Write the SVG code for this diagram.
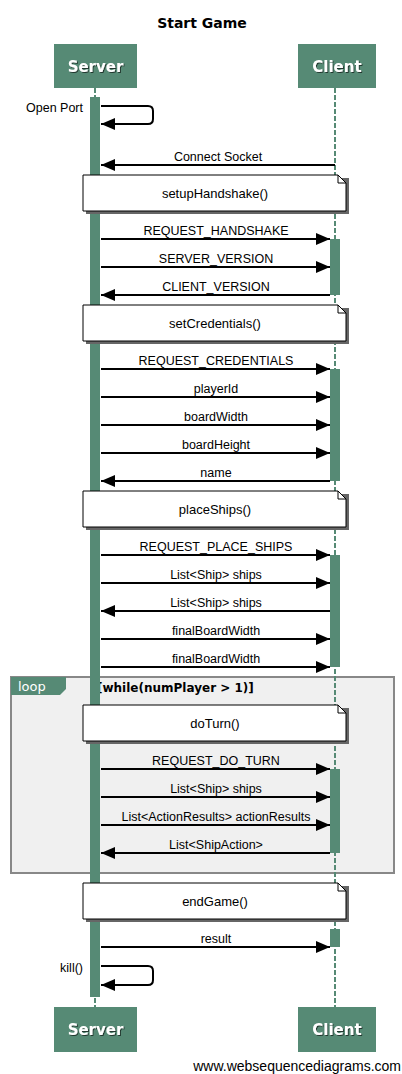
<svg xmlns="http://www.w3.org/2000/svg" width="402" height="1074" viewBox="0 0 402 1074">
<style>
.lbl{font-family:"Liberation Sans",Arial,sans-serif;font-size:12.5px;fill:#000;text-anchor:middle}
.ntxt{font-family:"Liberation Sans",Arial,sans-serif;font-size:13px;fill:#000;text-anchor:middle}
.lblr{font-family:"Liberation Sans",Arial,sans-serif;font-size:12.5px;fill:#000;text-anchor:end}
.part{fill:#568a75}
.ptxt{font-family:"DejaVu Sans",Verdana,sans-serif;font-size:15px;font-weight:bold;fill:#fff;text-anchor:middle;filter:url(#ts)}
.life{stroke:#568a75;stroke-width:2;stroke-dasharray:5,2;fill:none}
.act{fill:#568a75}
.msg{stroke:#000;stroke-width:2;fill:none;marker-end:url(#ah)}
.note{fill:#fff;stroke:#000;stroke-width:1}
.nsh{fill:#666}
</style>
<defs>
<marker id="ah" markerUnits="userSpaceOnUse" markerWidth="14" markerHeight="12" refX="14" refY="6" orient="auto">
<path d="M0,0 L14,6 L0,12 z" fill="#000"/>
</marker>
<filter id="ts" x="-20%" y="-20%" width="140%" height="140%">
<feDropShadow dx="1" dy="1" stdDeviation="0.6" flood-color="#000" flood-opacity="0.6"/>
</filter>
</defs>
<rect width="402" height="1074" fill="#fff"/>
<text x="202" y="28" font-family="DejaVu Sans,Verdana,sans-serif" font-size="14" font-weight="bold" text-anchor="middle">Start Game</text>

<g id="loop">
<rect x="11" y="677" width="383" height="196" fill="#f0f0f0" stroke="#888" stroke-width="2"/>
<path d="M11,677 H66 V689 L60,695 H11 Z" fill="#568a75"/>
<text x="18" y="691" font-family="DejaVu Sans,Verdana,sans-serif" font-size="13" fill="#fff">loop</text>
<text x="97" y="692" font-family="DejaVu Sans,Verdana,sans-serif" font-size="12" font-weight="bold">[while(numPlayer &gt; 1)]</text>
</g>

<g id="lifelines">
<line class="life" x1="95" y1="88" x2="95" y2="1007"/>
<line class="life" x1="335" y1="88" x2="335" y2="1007"/>
</g>

<g id="activations">
<rect class="act" x="90" y="97" width="10" height="900"/>
<rect class="act" x="330" y="239" width="10" height="56"/>
<rect class="act" x="330" y="369" width="10" height="112"/>
<rect class="act" x="330" y="555" width="10" height="112"/>
<rect class="act" x="330" y="769" width="10" height="84"/>
<rect class="act" x="330" y="929" width="10" height="18"/>
</g>

<g id="server-top"><rect class="part" x="54" y="44" width="83" height="44"/><text class="ptxt" x="95.5" y="72">Server</text></g>
<g id="client-top"><rect class="part" x="298" y="44" width="78" height="44"/><text class="ptxt" x="337" y="72">Client</text></g>
<g id="server-bottom"><rect class="part" x="54" y="1007" width="83" height="45"/><text class="ptxt" x="95.5" y="1035">Server</text></g>
<g id="client-bottom"><rect class="part" x="298" y="1007" width="78" height="45"/><text class="ptxt" x="337" y="1035">Client</text></g>

<g id="note-setupHandshake">
<path class="nsh" d="M86,178 H349 V214 H86 Z"/>
<path class="note" d="M83,175 H338 L346,183 V211 H83 Z"/>
<path d="M338,175 V183 H346" fill="none" stroke="#000"/>
<text class="ntxt" x="215" y="198">setupHandshake()</text>
</g>
<g id="note-setCredentials">
<path class="nsh" d="M86,308 H349 V344 H86 Z"/>
<path class="note" d="M83,305 H338 L346,313 V341 H83 Z"/>
<path d="M338,305 V313 H346" fill="none" stroke="#000"/>
<text class="ntxt" x="215" y="328">setCredentials()</text>
</g>
<g id="note-placeShips">
<path class="nsh" d="M86,494 H349 V530 H86 Z"/>
<path class="note" d="M83,491 H338 L346,499 V527 H83 Z"/>
<path d="M338,491 V499 H346" fill="none" stroke="#000"/>
<text class="ntxt" x="215" y="514">placeShips()</text>
</g>
<g id="note-doTurn">
<path class="nsh" d="M86,708 H349 V744 H86 Z"/>
<path class="note" d="M83,705 H338 L346,713 V741 H83 Z"/>
<path d="M338,705 V713 H346" fill="none" stroke="#000"/>
<text class="ntxt" x="215" y="728">doTurn()</text>
</g>
<g id="note-endGame">
<path class="nsh" d="M86,886 H349 V922 H86 Z"/>
<path class="note" d="M83,883 H338 L346,891 V919 H83 Z"/>
<path d="M338,883 V891 H346" fill="none" stroke="#000"/>
<text class="ntxt" x="215" y="906">endGame()</text>
</g>

<g id="connectors">
<path class="msg" d="M101,106 H148 Q153,106 153,111 V119 Q153,124 148,124 H101"/>
<text class="lblr" x="83" y="112">Open Port</text>
<line class="msg" x1="335" y1="165" x2="101" y2="165"/>
<text class="lbl" x="218" y="161">Connect Socket</text>
<line class="msg" x1="101" y1="239" x2="330" y2="239"/>
<text class="lbl" x="216" y="235">REQUEST_HANDSHAKE</text>
<line class="msg" x1="101" y1="267" x2="330" y2="267"/>
<text class="lbl" x="216" y="263">SERVER_VERSION</text>
<line class="msg" x1="330" y1="295" x2="101" y2="295"/>
<text class="lbl" x="216" y="291">CLIENT_VERSION</text>
<line class="msg" x1="101" y1="369" x2="330" y2="369"/>
<text class="lbl" x="216" y="365">REQUEST_CREDENTIALS</text>
<line class="msg" x1="101" y1="397" x2="330" y2="397"/>
<text class="lbl" x="216" y="393">playerId</text>
<line class="msg" x1="101" y1="425" x2="330" y2="425"/>
<text class="lbl" x="216" y="421">boardWidth</text>
<line class="msg" x1="101" y1="453" x2="330" y2="453"/>
<text class="lbl" x="216" y="449">boardHeight</text>
<line class="msg" x1="330" y1="481" x2="101" y2="481"/>
<text class="lbl" x="216" y="477">name</text>
<line class="msg" x1="101" y1="555" x2="330" y2="555"/>
<text class="lbl" x="216" y="551">REQUEST_PLACE_SHIPS</text>
<line class="msg" x1="101" y1="583" x2="330" y2="583"/>
<text class="lbl" x="216" y="579">List&lt;Ship&gt; ships</text>
<line class="msg" x1="330" y1="611" x2="101" y2="611"/>
<text class="lbl" x="216" y="607">List&lt;Ship&gt; ships</text>
<line class="msg" x1="101" y1="639" x2="330" y2="639"/>
<text class="lbl" x="216" y="635">finalBoardWidth</text>
<line class="msg" x1="101" y1="667" x2="330" y2="667"/>
<text class="lbl" x="216" y="663">finalBoardWidth</text>
<line class="msg" x1="101" y1="769" x2="330" y2="769"/>
<text class="lbl" x="216" y="765">REQUEST_DO_TURN</text>
<line class="msg" x1="101" y1="797" x2="330" y2="797"/>
<text class="lbl" x="216" y="793">List&lt;Ship&gt; ships</text>
<line class="msg" x1="101" y1="825" x2="330" y2="825"/>
<text class="lbl" x="216" y="821">List&lt;ActionResults&gt; actionResults</text>
<line class="msg" x1="330" y1="853" x2="101" y2="853"/>
<text class="lbl" x="216" y="849">List&lt;ShipAction&gt;</text>
<line class="msg" x1="101" y1="947" x2="330" y2="947"/>
<text class="lbl" x="216" y="943">result</text>
<path class="msg" d="M101,966 H148 Q153,966 153,971 V980 Q153,985 148,985 H101"/>
<text class="lblr" x="83" y="972">kill()</text>
</g>

<text x="401" y="1071" font-family="Liberation Sans,Arial,sans-serif" font-size="14" text-anchor="end">www.websequencediagrams.com</text>
</svg>
